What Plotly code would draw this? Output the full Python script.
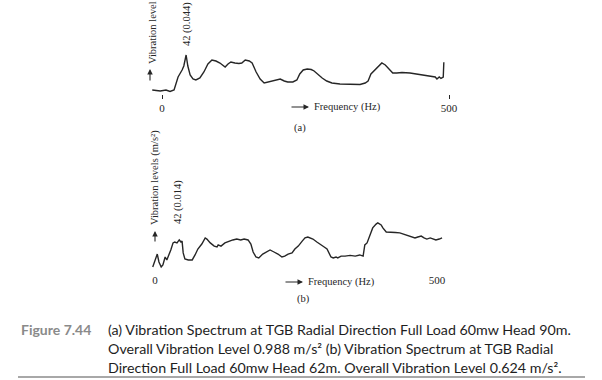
import plotly.graph_objects as go

# ---------------- data ----------------
freq_a = [-17, -3, 7, 14, 21, 28, 35, 38, 42, 45, 49, 54, 59, 66, 73, 80, 87, 94, 101, 110,
          115, 120, 127, 134, 139, 145, 152, 157, 164, 171, 178, 185, 192, 199, 206, 213,
          219, 228, 235, 240, 246, 253, 260, 265, 272, 279, 287, 296, 310, 328, 345, 354,
          359, 364, 371, 378, 383, 389, 395, 402, 409, 418, 432, 449, 467, 476, 479, 483,
          486, 490, 491]
level_a = [0.0055, 0.0044, 0.0055, 0.0039, 0.0055, 0.0198, 0.0275, 0.0319, 0.044, 0.0319,
           0.022, 0.0176, 0.0165, 0.0187, 0.0253, 0.0341, 0.0385, 0.0374, 0.0352, 0.0308,
           0.0341, 0.0363, 0.0352, 0.0347, 0.0352, 0.0385, 0.0374, 0.0352, 0.0253, 0.0176,
           0.0132, 0.0143, 0.0154, 0.0165, 0.0176, 0.0154, 0.0143, 0.0143, 0.0165, 0.0231,
           0.0275, 0.0286, 0.028, 0.0264, 0.022, 0.0187, 0.0154, 0.0132, 0.0121, 0.0116,
           0.0116, 0.0132, 0.0154, 0.0231, 0.0275, 0.0319, 0.0352, 0.033, 0.0286, 0.0242,
           0.0242, 0.0248, 0.0242, 0.0226, 0.0209, 0.0198, 0.0176, 0.0198, 0.0182, 0.0198,
           0.036]

freq_b = [-4, 0, 4, 7, 11, 14, 18, 21, 25, 28, 32, 35, 39, 43, 46, 48, 50, 53, 59, 66, 71,
          76, 83, 89, 92, 98, 105, 110, 112, 117, 124, 131, 138, 145, 152, 158, 165, 170,
          174, 179, 184, 191, 199, 204, 211, 218, 225, 230, 236, 243, 248, 254, 261, 266,
          271, 277, 280, 287, 293, 300, 305, 309, 312, 316, 321, 324, 330, 337, 346, 355,
          363, 369, 372, 376, 379, 383, 386, 392, 395, 401, 404, 410, 417, 426, 434, 441,
          449, 456, 461, 466, 472, 477, 482, 488, 493, 498, 504, 509]
level_b = [0.0022, 0.0053, 0.0079, 0.0044, 0.0022, 0.0031, 0.0066, 0.0053, 0.0075, 0.0097,
           0.0128, 0.0132, 0.0128, 0.0141, 0.0132, 0.0136, 0.0084, 0.0057, 0.0053, 0.0053,
           0.0075, 0.0101, 0.0123, 0.015, 0.0145, 0.0128, 0.0114, 0.011, 0.0119, 0.0114,
           0.0128, 0.0136, 0.0141, 0.0145, 0.0141, 0.0145, 0.0141, 0.0123, 0.0088, 0.0066,
           0.0062, 0.0079, 0.0092, 0.0097, 0.0088, 0.0079, 0.0066, 0.007, 0.0079, 0.0084,
           0.0101, 0.0114, 0.0136, 0.015, 0.0154, 0.015, 0.0145, 0.0132, 0.0123, 0.011,
           0.0101, 0.0079, 0.0066, 0.0062, 0.0066, 0.0062, 0.007, 0.007, 0.0073, 0.007,
           0.0075, 0.007, 0.0119, 0.0128, 0.015, 0.0172, 0.0194, 0.0211, 0.0216, 0.0207,
           0.0194, 0.0176, 0.0176, 0.0174, 0.0172, 0.0167, 0.0158, 0.0154, 0.015, 0.0154,
           0.0158, 0.015, 0.0145, 0.015, 0.0145, 0.0141, 0.0145, 0.015]

x_tickvals = [0, 500]
x_ticktext = ["0", "500"]

peak_label_a = "42 (0.044)"
peak_label_b = "42 (0.014)"
ylabel_a = "Vibration level"
ylabel_b = "Vibration levels (m/s²)"
xlabel = "Frequency (Hz)"
fig_no = "Figure 7.44"
caption_lines = [
    "(a) Vibration Spectrum at TGB Radial Direction Full Load 60mw Head 90m.",
    "Overall Vibration Level 0.988 m/s² (b) Vibration Spectrum at TGB Radial",
    "Direction Full Load 60mw Head 62m. Overall Vibration Level 0.624 m/s².",
]

# ---------------- layout helpers ----------------
W, H = 602, 380
def px(x):
    return x / W
def py(y):
    return 1 - y / H

SERIF = "Liberation Serif"
SANS = "Lato"
INK = "#262626"

fig = go.Figure()
fig.add_trace(go.Scatter(x=freq_a, y=level_a, mode="lines", xaxis="x", yaxis="y",
                         line=dict(color=INK, width=1.4), hoverinfo="skip"))
fig.add_trace(go.Scatter(x=freq_b, y=level_b, mode="lines", xaxis="x2", yaxis="y2",
                         line=dict(color=INK, width=1.4), hoverinfo="skip"))

# pixel -> value scale (styling constants)
ka, za = 500 / 287, 162   # Hz per px, px of 0 Hz (chart a)
kb, zb = 500 / 282, 155   # chart b
va, ya0 = 0.0011, 95      # value per px, px of zero level (chart a)
vb, yb0 = 0.00044, 272

xl, xr = 140, 470
a_top, a_bot = 0, 94
b_top, b_bot = 130, 272

common_x = dict(showgrid=False, zeroline=False, showline=False,
                tickfont=dict(family=SERIF, size=11, color=INK),
                tickmode="array", tickvals=x_tickvals, ticktext=x_ticktext)
common_y = dict(showgrid=False, zeroline=False, showline=False, showticklabels=False, ticks="")

fig.update_layout(
    width=W, height=H, margin=dict(l=0, r=0, t=0, b=0),
    paper_bgcolor="white", plot_bgcolor="white", showlegend=False,
    xaxis=dict(domain=[px(xl), px(xr)], range=[(xl - za) * ka, (xr - za) * ka], anchor="y",
               ticks="outside", ticklen=4, tickwidth=1, tickcolor=INK, **common_x),
    yaxis=dict(domain=[py(a_bot), py(a_top)], range=[(ya0 - a_bot) * va, (ya0 - a_top) * va],
               anchor="x", **common_y),
    xaxis2=dict(domain=[px(xl), px(xr)], range=[(xl - zb) * kb, (xr - zb) * kb], anchor="y2",
                ticks="", **common_x),
    yaxis2=dict(domain=[py(b_bot), py(b_top)], range=[(yb0 - b_bot) * vb, (yb0 - b_top) * vb],
                anchor="x2", **common_y),
)

ann = []
def text(t, x, y, size=10.5, angle=0, xa="center", ya="middle", family=SERIF, color=INK):
    ann.append(dict(text=t, x=px(x), y=py(y), xref="paper", yref="paper", showarrow=False,
                    textangle=angle, xanchor=xa, yanchor=ya,
                    font=dict(family=family, size=size, color=color)))
def arrow(xh, yh, dx, dy):
    ann.append(dict(text="", x=px(xh), y=py(yh), xref="paper", yref="paper", showarrow=True,
                    ax=dx, ay=dy, arrowhead=2, arrowsize=1, arrowwidth=1.1, arrowcolor=INK))

# chart (a)
text(peak_label_a, 187, 24, angle=-90)
text(ylabel_a, 152, 33, angle=-90)
arrow(150, 69, 0, 13)
arrow(309, 107, -19, 0)
text(xlabel, 312, 107, xa="left")
text("(a)", 300, 128)

# chart (b)
text(ylabel_b, 155, 178, angle=-90)
arrow(155, 231, 0, 12)
text(peak_label_b, 178, 202, angle=-90)
arrow(303, 282, -19, 0)
text(xlabel, 306, 282, xa="left")
text("(b)", 303, 299)

# caption
text("<b>" + fig_no + "</b>", 19, 329, size=14, xa="left", family=SANS, color="#8a8a8a")
for i, line in enumerate(caption_lines):
    text(line, 106, 329 + 19 * i, size=14.25, xa="left", family=SANS, color="#1e1e1e")

fig.update_layout(annotations=ann,
                  shapes=[dict(type="line", xref="paper", yref="paper",
                               x0=px(18), x1=px(585), y0=py(377), y1=py(377),
                               line=dict(color="#a8a8a8", width=2))])

fig.write_html("out.html", config={"displayModeBar": False},
               post_script="document.body.style.margin='0';document.body.style.overflow='hidden';")
